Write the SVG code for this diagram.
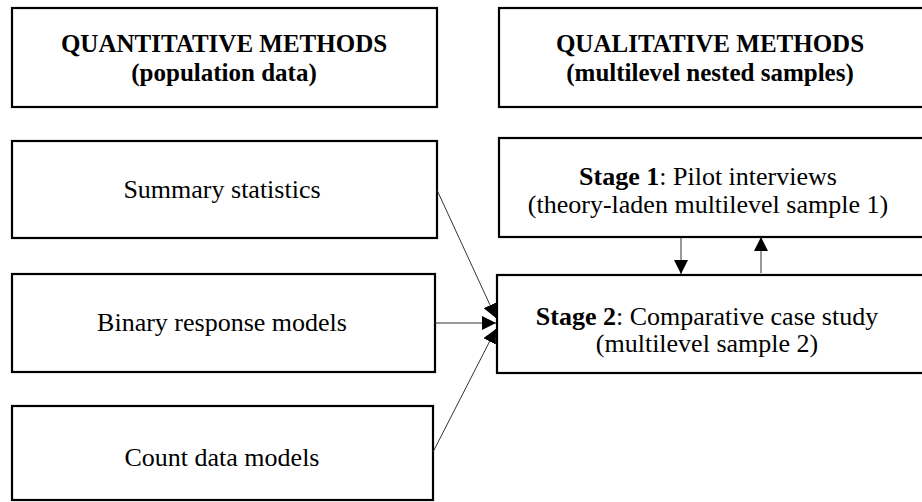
<svg xmlns="http://www.w3.org/2000/svg" width="922" height="502" viewBox="0 0 922 502">
<defs>
<style>
.box{fill:#fff;stroke:#000;stroke-width:2.2}
.t{font-family:"Liberation Serif","Times New Roman",serif;font-size:26px;fill:#000;text-anchor:middle}
.h{font-weight:bold;font-size:25px}
.c{stroke:#333;stroke-width:1;fill:none}
</style>
<marker id="ah" viewBox="0 0 14 14" refX="14" refY="7" markerWidth="14" markerHeight="14" markerUnits="userSpaceOnUse" orient="auto">
<path d="M0,0 L14,7 L0,14 Z" fill="#000"/>
</marker>
</defs>
<g id="quant-title">
<rect class="box" x="12" y="8" width="425" height="99"/>
<text class="t h" x="224" y="52">QUANTITATIVE METHODS</text>
<text class="t h" x="224" y="81">(population data)</text>
</g>
<g id="qual-title">
<rect class="box" x="499" y="8" width="430" height="99"/>
<text class="t h" x="710" y="52">QUALITATIVE METHODS</text>
<text class="t h" x="710" y="81">(multilevel nested samples)</text>
</g>
<g id="summary">
<rect class="box" x="12" y="141" width="425" height="97"/>
<text class="t" x="222" y="198">Summary statistics</text>
</g>
<g id="binary">
<rect class="box" x="12" y="274" width="423" height="98"/>
<text class="t" x="222" y="331">Binary response models</text>
</g>
<g id="count">
<rect class="box" x="12" y="406" width="421" height="94"/>
<text class="t" x="222" y="466">Count data models</text>
</g>
<g id="stage1">
<rect class="box" x="499" y="138" width="430" height="99"/>
<text class="t" x="708" y="185"><tspan font-weight="bold">Stage 1</tspan>: Pilot interviews</text>
<text class="t" x="708" y="213">(theory-laden multilevel sample 1)</text>
</g>
<g id="stage2">
<rect class="box" x="497" y="275" width="432" height="98"/>
<text class="t" x="707" y="325"><tspan font-weight="bold">Stage 2</tspan>: Comparative case study</text>
<text class="t" x="707" y="352">(multilevel sample 2)</text>
</g>
<g id="connectors">
<line class="c" x1="437" y1="190" x2="496" y2="318" marker-end="url(#ah)"/>
<line class="c" x1="435" y1="323" x2="496" y2="323" marker-end="url(#ah)"/>
<line class="c" x1="433" y1="452" x2="496" y2="329" marker-end="url(#ah)"/>
<line class="c" x1="681" y1="238" x2="681" y2="274" marker-end="url(#ah)"/>
<line class="c" x1="761" y1="273" x2="761" y2="237" marker-end="url(#ah)"/>
</g>
</svg>
